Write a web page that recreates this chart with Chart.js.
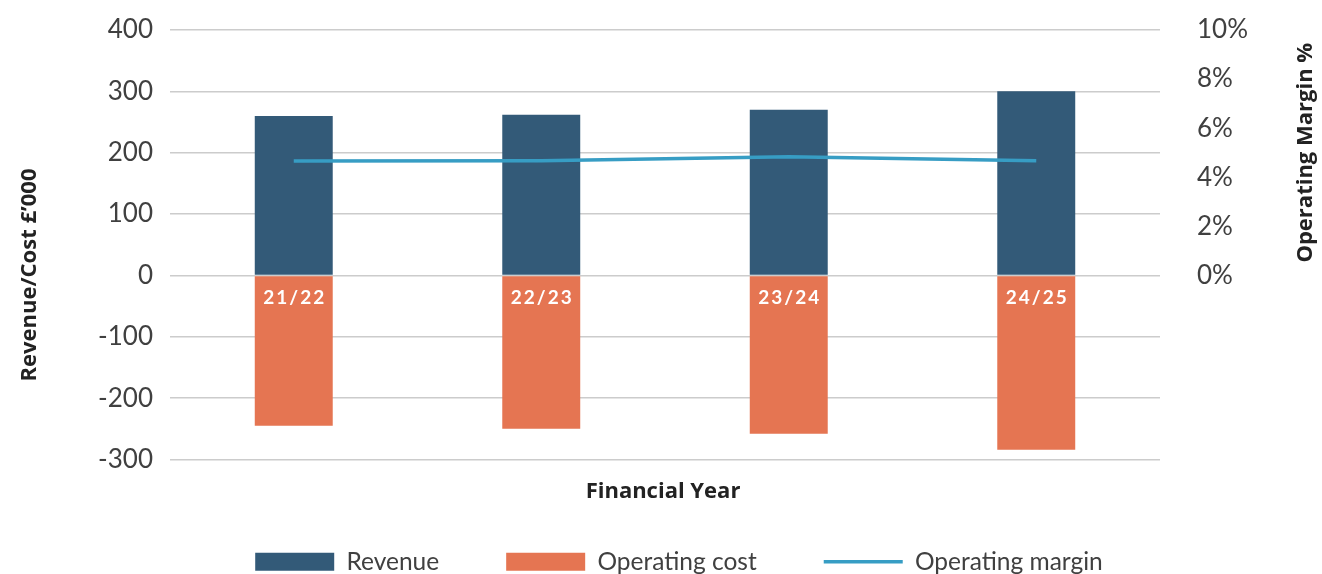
<!DOCTYPE html>
<html>
<head>
<meta charset="utf-8">
<script src="https://cdn.jsdelivr.net/npm/chart.js@4/dist/chart.umd.min.js"></script>
<style>
    html, body { margin: 0; padding: 0; background: #fff; }
    #wrap { width: 1322px; height: 574px; }
</style>
</head>
<body>
<div id="wrap"><canvas id="chart"></canvas></div>
<script>
// Chart data
const years = ['21/22', '22/23', '23/24', '24/25'];
const revenue = [260, 262, 270, 300];
const operatingCost = [-245, -250, -258, -284];
const operatingMargin = [4.66, 4.67, 4.84, 4.67];

const leftTicks = { min: -300, max: 400, step: 100 };
const rightTicks = { min: -7.5, max: 10, step: 2 };

const textColor = '#404040';
const titleColor = '#222222';
const fontFamily = 'Lato, "Open Sans", sans-serif';
const titleFont = 'bold 22px "Open Sans", Lato, sans-serif';

// Draws the year labels just under the zero line, inside the cost bars
const yearLabels = {
    id: 'yearLabels',
    afterDatasetsDraw(chart) {
        const ctx = chart.ctx;
        const x = chart.scales.x;
        const zero = chart.scales.y.getPixelForValue(0);
        ctx.save();
        ctx.fillStyle = '#ffffff';
        ctx.font = 'bold 19px ' + fontFamily;
        ctx.letterSpacing = '2px';
        ctx.textAlign = 'center';
        ctx.textBaseline = 'middle';
        years.forEach((label, i) => {
            ctx.fillText(label, x.getPixelForValue(i) + 1, zero + 22);
        });
        ctx.restore();
    }
};

// Axis titles placed by hand so they sit where the original has them
const axisTitles = {
    id: 'axisTitles',
    afterDraw(chart) {
        const ctx = chart.ctx;
        const y2 = chart.scales.y2;
        const x = chart.scales.x;
        ctx.save();
        ctx.fillStyle = titleColor;
        ctx.font = titleFont;
        ctx.textAlign = 'center';
        ctx.textBaseline = 'middle';

        ctx.fillText('Financial Year', (x.left + x.right) / 2 - 2, chart.chartArea.bottom + 32);

        ctx.save();
        ctx.translate(30, 275);
        ctx.rotate(-Math.PI / 2);
        ctx.fillText('Revenue/Cost £\u2019000', 0, 0);
        ctx.restore();

        const midRight = (y2.getPixelForValue(0) + y2.getPixelForValue(10)) / 2;
        ctx.save();
        ctx.translate(1306, midRight);
        ctx.rotate(-Math.PI / 2);
        ctx.fillText('Operating Margin %', 0, 0);
        ctx.restore();
        ctx.restore();
    }
};

const chart = new Chart(document.getElementById('chart'), {
    data: {
        labels: years,
        datasets: [
            {
                type: 'bar',
                label: 'Revenue',
                data: revenue,
                backgroundColor: '#335a78',
                yAxisID: 'y',
                stack: 'money',
                order: 1,
                pointStyle: 'rect'
            },
            {
                type: 'bar',
                label: 'Operating cost',
                data: operatingCost,
                backgroundColor: '#e57552',
                yAxisID: 'y',
                stack: 'money',
                order: 1,
                pointStyle: 'rect'
            },
            {
                type: 'line',
                label: 'Operating margin',
                data: operatingMargin,
                borderColor: '#379dc4',
                backgroundColor: '#379dc4',
                borderWidth: 3.5,
                pointRadius: 0,
                tension: 0,
                yAxisID: 'y2',
                order: 0,
                pointStyle: 'line'
            }
        ]
    },
    options: {
        responsive: true,
        maintainAspectRatio: false,
        animation: false,
        devicePixelRatio: 1,
        layout: {
            // left padding nudges the centred legend to the right, like the original
            padding: { top: 30, bottom: -10, left: 36, right: 0 }
        },
        datasets: {
            bar: {
                categoryPercentage: 1,
                barPercentage: 0.315
            }
        },
        scales: {
            x: {
                stacked: true,
                grid: { display: false },
                border: { display: false },
                ticks: { display: false },
                afterFit(scale) {
                    scale.height = 23;
                    scale.paddingLeft = 0;
                    scale.paddingRight = 0;
                }
            },
            y: {
                position: 'left',
                stacked: true,
                min: leftTicks.min,
                max: leftTicks.max,
                afterFit(scale) {
                    scale.width = 134;
                    scale.paddingTop = 0;
                    scale.paddingBottom = 0;
                },
                ticks: {
                    stepSize: leftTicks.step,
                    color: textColor,
                    padding: 17,
                    font: { family: fontFamily, size: 26 }
                },
                grid: {
                    color: '#cccccc',
                    lineWidth: 1.5,
                    drawTicks: false
                },
                border: { display: false }
            },
            y2: {
                position: 'right',
                min: rightTicks.min,
                max: rightTicks.max,
                afterFit(scale) {
                    scale.width = 162;
                    scale.paddingTop = 0;
                    scale.paddingBottom = 0;
                },
                afterBuildTicks(scale) {
                    scale.ticks = [0, 2, 4, 6, 8, 10].map(v => ({ value: v }));
                },
                ticks: {
                    color: textColor,
                    padding: 37,
                    font: { family: fontFamily, size: 26 },
                    callback: function(value) {
                        return value >= 0 ? value + '%' : '';
                    }
                },
                grid: { display: false, drawTicks: false },
                border: { display: false }
            }
        },
        plugins: {
            legend: {
                position: 'bottom',
                labels: {
                    usePointStyle: true,
                    pointStyleWidth: 79,
                    boxHeight: 18,
                    padding: 67,
                    color: textColor,
                    font: { family: fontFamily, size: 24.5 },
                    sort: (a, b) => a.datasetIndex - b.datasetIndex
                }
            },
            tooltip: { enabled: false }
        }
    },
    plugins: [yearLabels, axisTitles]
});
</script>
</body>
</html>
